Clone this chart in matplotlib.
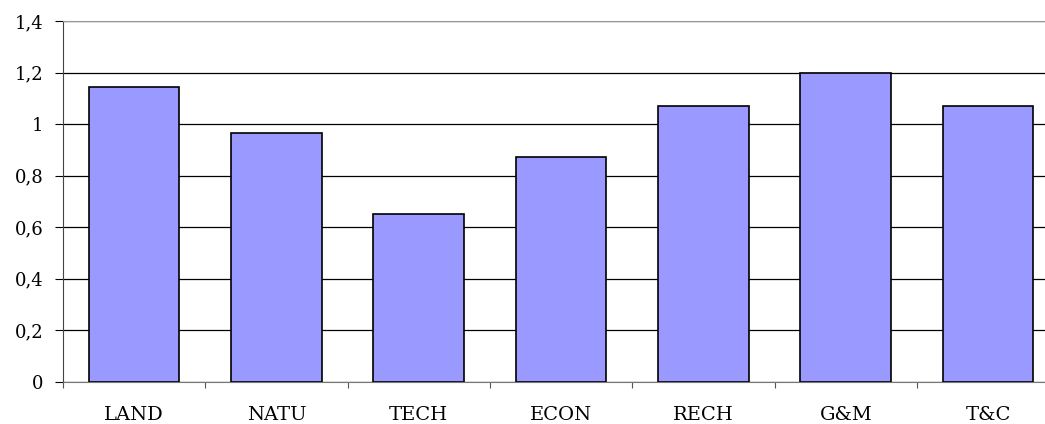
import matplotlib
matplotlib.use("Agg")
import matplotlib.pyplot as plt
from matplotlib.ticker import FuncFormatter, MultipleLocator

categories = ["LAND", "NATU", "TECH", "ECON", "RECH", "G&M", "T&C"]
values = [1.145, 0.965, 0.65, 0.873, 1.07, 1.2, 1.07]

plt.rcParams["font.family"] = ["DejaVu Serif"]

fig = plt.figure(figsize=(10.45, 4.24), dpi=100)
ax = fig.add_axes([63 / 1045, 1 - 382 / 424, 982 / 1045, (382 - 21) / 424])

x = range(len(categories))
ax.bar(x, values, width=0.637, color="#9999ff", edgecolor="black", linewidth=1.2, zorder=3)

ax.yaxis.set_major_locator(MultipleLocator(0.2))
ax.yaxis.set_major_formatter(FuncFormatter(lambda v, p: ("%g" % round(v, 1)).replace(".", ",")))
ax.grid(axis="y", color="black", linewidth=0.9, zorder=0)

ax.set_xticks([i - 0.5 for i in range(len(categories) + 1)])
ax.set_xticklabels([])
ax.set_xticks(list(x), labels=categories, minor=True)
ax.tick_params(axis="x", which="major", length=4.5, direction="out", color="#555555")
ax.tick_params(axis="x", which="minor", length=0, pad=17, labelsize=14)
ax.tick_params(axis="y", length=6, direction="out", labelsize=13, pad=8)

ax.set_xlim(-0.5, 6.4)
ax.set_ylim(0, 1.4)

ax.spines["right"].set_visible(False)
ax.spines["top"].set_color("#999999")
ax.spines["left"].set_color("#444444")
ax.spines["bottom"].set_color("#777777")

fig.savefig("out.png", dpi=100)
